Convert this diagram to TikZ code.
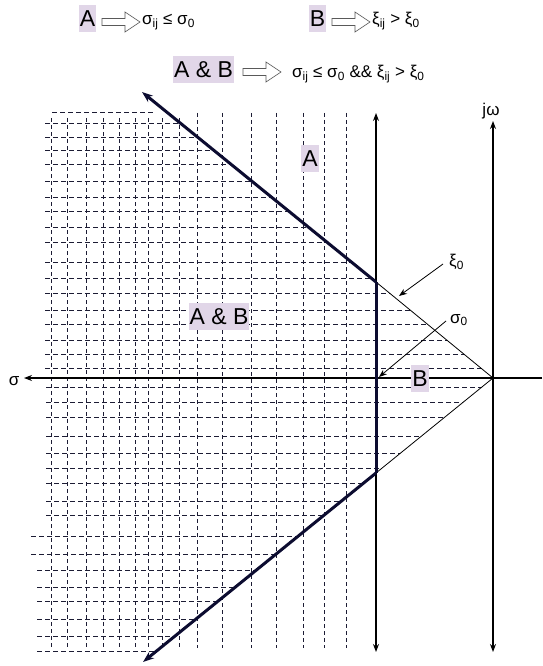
\documentclass[tikz,border=0pt]{standalone}
\usepackage{fontspec}
\setmainfont{Liberation Sans}
\usetikzlibrary{arrows.meta}
\definecolor{navy}{RGB}{12,12,48}
\definecolor{gridc}{RGB}{28,28,52}
\definecolor{lav}{RGB}{225,214,232}
\tikzset{
  biglab/.style={fill=lav, inner xsep=1pt, inner ysep=0.5pt, text height=21pt, text depth=5pt, font=\fontsize{23}{26}\selectfont},
  smalltxt/.style={font=\fontsize{17}{20}\selectfont, inner sep=0pt},
  hgrid/.style={draw=gridc, line width=0.9pt, dash pattern=on 5pt off 3pt},
  vgrid/.style={draw=gridc, line width=0.9pt, dash pattern=on 4pt off 3pt},
  boundary/.style={draw=navy, line width=3pt},
  axisline/.style={draw=black, line width=1.1pt},
  thinline/.style={draw=black, line width=0.8pt},
  bigtip/.style={-{Stealth[length=11pt,width=8pt]}},
  axtip/.style={{Stealth[length=8pt,width=6pt]}-{Stealth[length=8pt,width=6pt]}},
  onetip/.style={-{Stealth[length=8pt,width=6pt]}},
  hollow/.pic={\draw[black!65, line width=0.6pt, fill=white]
     (0,-3.5) -- (23,-3.5) -- (23,-10) -- (38,0) -- (23,10) -- (23,3.5) -- (0,3.5) -- cycle;}
}
\begin{document}
\begin{tikzpicture}[x=1pt,y=-1pt]
\fill[white] (0,0) rectangle (542,666);
\useasboundingbox (0,0) rectangle (542,666);

% key points
\coordinate (O) at (493,378);
\coordinate (C1) at (376,282);
\coordinate (C2) at (376,473);
\coordinate (TL) at (142,92);
\coordinate (BL) at (143,662);
\coordinate (S0top) at (376,113);
\coordinate (S0bot) at (376,652);
\coordinate (Jtop) at (493,121);
\coordinate (Jbot) at (493,652);
\coordinate (Sright) at (542,378);
\coordinate (Sleft) at (24,378);

% vertical dashed grid (sigma <= sigma0)
\foreach \x in {51,67,86,103,119,135,148,162,179}
  \draw[vgrid] (\x,118) -- (\x,648);
\foreach \x in {197,222,251,276,303,324,346}
  \draw[vgrid] (\x,113) -- (\x,648);

% horizontal dashed grid (xi >= xi0)
\draw[hgrid] (52,112) -- (153,112);
\begin{scope}
  \clip (O) -- (-30,-51) -- (-35,807) -- cycle;
  \foreach \y in {123,137,150,164,181,197,211,227,242,262,278,293,310,324,340,354,368}
    \draw[hgrid] (45,\y) -- (493,\y);
  \foreach \y in {387,402,417,436,453,468,483,501,515}
    \draw[hgrid] (46,\y) -- (493,\y);
  \foreach \y in {536,554}
    \draw[hgrid] (31,\y) -- (493,\y);
  \foreach \y in {570,587,601,619,636,651}
    \draw[hgrid] (37,\y) -- (493,\y);
\end{scope}

% thin cone lines
\draw[thinline] (C1) -- (O) -- (C2);

% axes
\draw[axisline, axtip] (S0top) -- (S0bot);
\draw[axisline, axtip] (Jtop) -- (Jbot);
\draw[axisline, onetip] (Sright) -- (Sleft);

% boundary of the region A & B
\draw[boundary, bigtip] (C1) -- (TL);
\draw[boundary] (C1) -- (C2);
\draw[boundary, bigtip] (C2) -- (BL);

% axis labels
\node[smalltxt] (jw) at (491,111) {jω};
\node[smalltxt] (sig) at (14,381) {σ};

% xi0 and sigma0 labels with pointers
\node[smalltxt, anchor=west] (xi0) at (449,262) {ξ\textsubscript{0}};
\node[smalltxt, anchor=west] (sig0) at (450,320) {σ\textsubscript{0}};
\coordinate (xi0p) at (399,296);
\coordinate (sig0p) at (379,377);
\draw[thinline, onetip] (xi0.west) ++(-6,2) -- (xi0p);
\draw[thinline, onetip] (sig0.west) ++(-4,1) -- (sig0p);

% region labels
\node[biglab] (rA) at (310,158) {A};
\node[biglab] (rAB) at (219,316) {A \& B};
\node[biglab] (rB) at (420,378) {B};

% legend
\node[biglab] (lA) at (87.5,19) {A};
\pic at (102,22) {hollow};
\node[smalltxt, anchor=base west] (tA) at (142,25) {σ\textsubscript{ij} ≤ σ\textsubscript{0}};

\node[biglab] (lB) at (317.5,19) {B};
\pic at (332,22) {hollow};
\node[smalltxt, anchor=base west] (tB) at (372,25) {ξ\textsubscript{ij} > ξ\textsubscript{0}};

\node[biglab] (lAB) at (203.5,70) {A \& B};
\pic at (243,72) {hollow};
\node[smalltxt, anchor=base west] (tAB) at (292,78) {σ\textsubscript{ij} ≤ σ\textsubscript{0} \&\& ξ\textsubscript{ij} > ξ\textsubscript{0}};
\end{tikzpicture}
\end{document}
